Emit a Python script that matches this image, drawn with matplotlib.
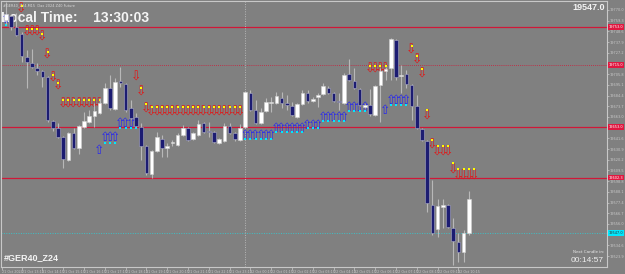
import matplotlib.pyplot as plt
import numpy as np

# 15 min bars, index 0..89
opens = [19760, 19764, 19753, 19746, 19723, 19717, 19712, 19709, 19703, 19659,
         19652, 19643, 19620, 19647, 19632, 19653, 19658, 19664, 19667, 19677,
         19692, 19671, 19699, 19696, 19672, 19663, 19653, 19634, 19606, 19629,
         19641, 19632, 19637, 19635, 19645, 19652, 19641, 19645, 19657, 19649,
         19648, 19637, 19639, 19654, 19647, 19640, 19653, 19687, 19670, 19657,
         19669, 19677, 19677, 19682, 19677, 19674, 19663, 19676, 19687, 19679,
         19683, 19686, 19692, 19687, 19679, 19677, 19706, 19699, 19691, 19673,
         19675, 19665, 19695, 19709, 19712, 19740, 19704, 19706, 19695, 19674,
         19651, 19639, 19575, 19551, 19573, 19575, 19552, 19538, 19528, 19547]
highs = [19778, 19765, 19767, 19748, 19730, 19731, 19717, 19710, 19704, 19660,
         19657, 19644, 19648, 19652, 19655, 19668, 19670, 19677, 19682, 19697,
         19705, 19702, 19713, 19697, 19680, 19667, 19657, 19635, 19630, 19648,
         19645, 19637, 19640, 19647, 19655, 19653, 19648, 19660, 19658, 19658,
         19649, 19642, 19657, 19657, 19648, 19656, 19689, 19690, 19680, 19672,
         19682, 19683, 19688, 19688, 19685, 19678, 19677, 19690, 19690, 19683,
         19687, 19697, 19694, 19688, 19687, 19707, 19721, 19712, 19692, 19676,
         19691, 19695, 19712, 19713, 19742, 19741, 19715, 19710, 19696, 19685,
         19652, 19640, 19600, 19581, 19581, 19576, 19562, 19547, 19550, 19589]
lows = [19756, 19750, 19744, 19718, 19692, 19712, 19705, 19693, 19658, 19649,
        19642, 19612, 19619, 19631, 19626, 19652, 19657, 19653, 19666, 19676,
        19670, 19670, 19693, 19668, 19661, 19653, 19620, 19605, 19602, 19628,
        19623, 19623, 19634, 19634, 19644, 19639, 19640, 19644, 19647, 19643,
        19637, 19636, 19638, 19646, 19639, 19639, 19652, 19669, 19656, 19656,
        19668, 19668, 19676, 19672, 19670, 19664, 19662, 19675, 19677, 19678,
        19673, 19685, 19686, 19678, 19670, 19676, 19699, 19691, 19674, 19672,
        19664, 19664, 19658, 19700, 19700, 19700, 19687, 19692, 19660, 19651,
        19639, 19568, 19545, 19543, 19552, 19552, 19515, 19518, 19518, 19545]
closes = [19766, 19753, 19745, 19724, 19718, 19713, 19709, 19703, 19660, 19652,
          19643, 19621, 19647, 19632, 19654, 19659, 19664, 19669, 19677, 19692,
          19672, 19698, 19697, 19670, 19662, 19654, 19634, 19607, 19629, 19643,
          19632, 19634, 19637.5, 19645, 19652, 19640, 19647, 19656, 19648, 19648,
          19638, 19641, 19654, 19647, 19641, 19652, 19688, 19670, 19657, 19668,
          19678, 19678, 19684, 19677, 19675, 19665, 19676, 19687, 19679, 19681,
          19685, 19694, 19687, 19679, 19678, 19705, 19700, 19692, 19675, 19675,
          19666, 19694, 19709, 19711, 19741, 19703, 19705, 19696, 19674, 19652,
          19640, 19577, 19547, 19574, 19575, 19553, 19539, 19528, 19547, 19581]

# indicator signals
sell_x = [3, 4, 5, 6, 7, 8, 9, 10, 11, 12, 13, 14, 15, 16, 17, 18, 25, 26, 27,
          28, 29, 30, 31, 32, 33, 34, 35, 36, 37, 38, 39, 40, 41, 42, 43, 44, 45,
          70, 71, 72, 73, 78, 79, 80, 81, 82, 83, 84, 85, 86, 87, 88, 89, 90]
sell_y = [19770.5, 19747.5, 19747.5, 19747.5, 19742.5, 19724.5, 19701.5, 19693.5,
          19676, 19676, 19676, 19676, 19676, 19676, 19676, 19676, 19703, 19688, 19670.5,
          19668, 19668, 19668, 19668, 19668, 19668, 19668, 19668, 19668, 19668,
          19668, 19668, 19668, 19668, 19668, 19668, 19668, 19668,
          19710.5, 19710.5, 19710.5, 19710.5, 19729.5, 19720, 19706, 19664, 19634.5,
          19628, 19628, 19628, 19610, 19604, 19604, 19604, 19604]
sell_dot_x = [3, 4, 5, 6, 7, 8, 9, 10, 11, 12, 13, 14, 15, 16, 17, 18, 26, 27,
              28, 29, 30, 31, 32, 33, 34, 35, 36, 37, 38, 39, 40, 41, 42, 43, 44, 45,
              70, 71, 72, 73, 78, 79, 80, 81, 82, 83, 84, 85, 86, 87, 88, 89, 90]
sell_dot_y = [19774, 19751, 19751, 19751, 19746, 19728, 19705, 19697,
              19680, 19680, 19680, 19680, 19680, 19680, 19680, 19680, 19692, 19676,
              19673, 19673, 19673, 19673, 19673, 19673, 19673, 19673, 19673, 19673,
              19673, 19673, 19673, 19673, 19673, 19673, 19673, 19673,
              19714, 19714, 19714, 19714, 19734, 19724, 19711, 19670, 19640,
              19634, 19634, 19634, 19617, 19611, 19611, 19611, 19611]
buy_x = [0, 18, 19, 20, 21, 22, 23, 24, 25, 46, 47, 48, 49, 50, 51,
         52, 53, 54, 55, 56, 57, 58, 59, 60, 61, 62, 63, 64, 65,
         66, 67, 68, 69, 73, 74, 75, 76, 77]
buy_y = [19760, 19629.5, 19642, 19642, 19642, 19656, 19656, 19656, 19656,
         19644.5, 19644.5, 19644.5, 19644.5, 19644.5, 19644.5,
         19651, 19651, 19651, 19651, 19651, 19651, 19654.5, 19654.5, 19654.5,
         19662.5, 19662.5, 19662.5, 19662.5, 19662.5,
         19672.5, 19672.5, 19672.5, 19672.5, 19669, 19679.5, 19679.5, 19679.5, 19679.5]
buy_dot_x = [0, 19, 20, 21, 22, 23, 24, 25, 46, 47, 48, 49, 50, 51,
             52, 53, 54, 55, 56, 57, 58, 59, 60, 61, 62, 63, 64, 65,
             66, 67, 68, 69, 74, 75, 76, 77]
buy_dot_y = [19755, 19637, 19637, 19637, 19652, 19652, 19652, 19652,
             19641, 19641, 19641, 19641, 19641, 19641,
             19647.5, 19647.5, 19647.5, 19647.5, 19647.5, 19647.5, 19651.5, 19651.5, 19651.5,
             19659, 19659, 19659, 19659, 19659,
             19669, 19669, 19669, 19669, 19675, 19675, 19675, 19675]

red_levels = [19753, 19653, 19602.3]
red_dotted = 19715
bid = 19547
separator_x = 46

price_ticks = [19770.0, 19759.3, 19748.6, 19737.9, 19727.2, 19705.8, 19695.1,
               19684.4, 19673.7, 19663.0, 19641.6, 19630.9, 19620.2, 19609.5,
               19598.8, 19588.1, 19577.4, 19566.7, 19556.0, 19534.6, 19523.9]
time_ticks = [-0.8, 3, 7, 11, 15, 19, 23, 27, 31, 35, 39, 43, 47, 51, 55, 59,
              63, 67, 71, 75, 79, 83, 87]
time_labels = ["21 Oct 2024", "21 Oct 13:15", "21 Oct 14:15", "21 Oct 15:15",
               "21 Oct 16:15", "21 Oct 17:15", "21 Oct 18:15", "21 Oct 19:15",
               "21 Oct 20:15", "21 Oct 21:15", "21 Oct 22:15", "21 Oct 23:15",
               "22 Oct 00:15", "22 Oct 01:15", "22 Oct 02:15", "22 Oct 03:15",
               "22 Oct 04:15", "22 Oct 05:15", "22 Oct 06:15", "22 Oct 07:15",
               "22 Oct 08:15", "22 Oct 09:15", "22 Oct 10:15"]

bg = '#808080'
fig = plt.figure(figsize=(6.25, 2.74), dpi=100, facecolor=bg)
ax = fig.add_axes([1/625, 7/274, 606/625, 266/274])
ax.set_facecolor(bg)
ax.set_xlim(-0.96, 115.58)
ax.set_ylim(19513, 19779)

o = np.array(opens, dtype=float)
h = np.array(highs, dtype=float)
l = np.array(lows, dtype=float)
c = np.array(closes, dtype=float)
x = np.arange(len(o))
up = c >= o

ax.vlines(x, l, h, color='#b8b8b8', lw=0.8, zorder=3)
ax.bar(x[up], np.maximum(c[up] - o[up], 0.9), bottom=o[up], width=0.72,
       color='white', edgecolor='#d0d0d0', lw=0.4, zorder=4)
ax.bar(x[~up], np.maximum(o[~up] - c[~up], 0.9), bottom=c[~up], width=0.72,
       color='#1c1c72', edgecolor='#a8a8c0', lw=0.4, zorder=4)

# levels
for lv in red_levels:
    ax.axhline(lv, color='#d01838', lw=0.9, zorder=2)
ax.axhline(red_dotted, color='#d01838', lw=0.6, ls=(0, (1, 1.5)), zorder=2)
ax.axhline(bid, color='#3cc0c8', lw=0.7, ls=(0, (1, 1.5)), zorder=2)
ax.axvline(separator_x, color='#b8b8b8', lw=0.7, ls=(0, (1, 1.5)), zorder=2)

# arrows
for xi, yi in zip(sell_x, sell_y):
    ax.text(xi, yi, '\u21e9', color='#e01818', fontsize=9, ha='center',
            va='center', family='DejaVu Sans', zorder=2.5)
for xi, yi in zip(buy_x, buy_y):
    ax.text(xi, yi, '\u21e7', color='#2828f0', fontsize=9, ha='center',
            va='center', family='DejaVu Sans', zorder=2.5)
ax.scatter(sell_dot_x, sell_dot_y, marker='s', s=3.5, color='#ffff00', lw=0, zorder=2.6)
ax.scatter(buy_dot_x, buy_dot_y, marker='s', s=3.5, color='#00e8ff', lw=0, zorder=2.6)

# axes styling
for sp in ax.spines.values():
    sp.set_color('#c8c8c8')
    sp.set_linewidth(0.8)
ax.yaxis.tick_right()
ax.set_yticks(price_ticks)
ax.set_yticklabels([f"{v:.1f}" for v in price_ticks])
ax.tick_params(axis='y', direction='out', length=1.5, width=0.5, colors='#c8c8c8',
               labelsize=2.5, pad=0.5)
ax.set_xticks(time_ticks)
ax.set_xticklabels(time_labels, ha='left')
ax.tick_params(axis='x', direction='out', length=2, width=0.5, colors='#c8c8c8',
               labelsize=2.4, pad=0.5)

ytr = ax.get_yaxis_transform()
for lv in red_levels + [red_dotted]:
    ax.text(1.003, lv, f"{lv:.1f}", transform=ytr, fontsize=2.5, color='white',
            va='center', ha='left', clip_on=False,
            bbox=dict(boxstyle='square,pad=0.2', fc='#e01840', ec='none'))
ax.text(1.003, bid, f"{bid:.1f}", transform=ytr, fontsize=2.5, color='#303030',
        va='center', ha='left', clip_on=False,
        bbox=dict(boxstyle='square,pad=0.2', fc='#00e8ff', ec='none'))

# text overlays
ax.text(0.003, 0.992, "#GER40_Z24,M15  Dax 2024 Z40 Future", transform=ax.transAxes,
        fontsize=2.5, color='#d8d8d8', va='top', ha='left')
ax.text(0.0, 0.935, "Local Time:    13:30:03", transform=ax.transAxes,
        fontsize=10, fontweight='bold', color='#f4f4f4', va='center', ha='left',
        family='Liberation Sans', zorder=1)
ax.text(0.997, 0.975, "19547.0", transform=ax.transAxes, fontsize=6.5,
        fontweight='bold', color='#f4f4f4', va='center', ha='right', family='Liberation Sans')
ax.text(0.004, 0.018, "#GER40_Z24", transform=ax.transAxes, fontsize=6.5,
        fontweight='bold', color='#f4f4f4', va='bottom', ha='left', family='Liberation Sans')
ax.text(0.995, 0.047, "Next Candle in:", transform=ax.transAxes, fontsize=3,
        color='#e8e8e8', va='bottom', ha='right')
ax.text(0.995, 0.012, "00:14:57", transform=ax.transAxes, fontsize=6,
        color='#eeeeee', va='bottom', ha='right', family='Liberation Sans')

fig.savefig('out.png', dpi=100, facecolor=bg)
